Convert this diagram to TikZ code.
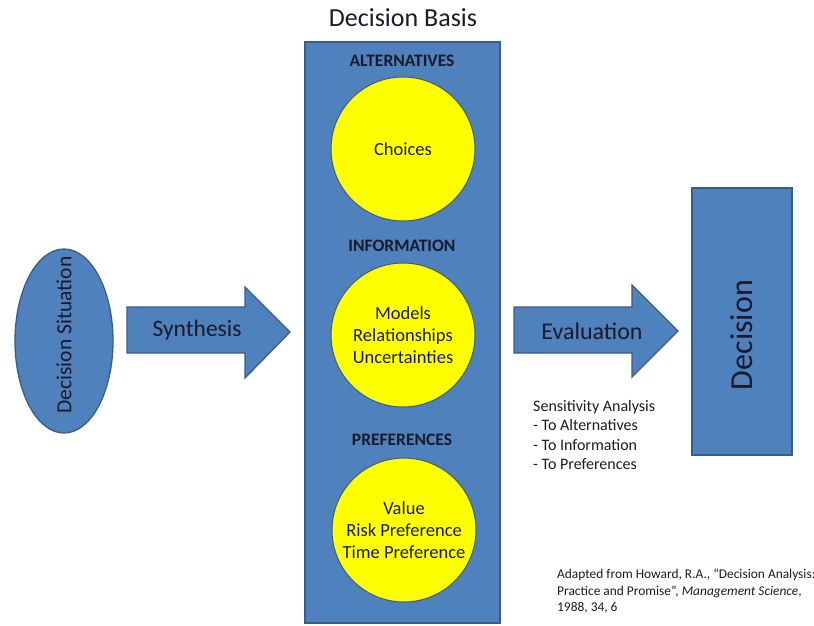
\documentclass[tikz,border=0pt]{standalone}
\usepackage{fontspec}
\setmainfont{Carlito}
\usetikzlibrary{shapes.geometric}
\definecolor{officeblue}{HTML}{4F81BD}
\definecolor{officeline}{HTML}{385D8A}
\definecolor{officeyellow}{HTML}{FFFF00}
\definecolor{inktext}{HTML}{1A1A2A}

\begin{document}
\begin{tikzpicture}[x=1pt,y=-1pt,text=inktext,
  blueshape/.style={fill=officeblue,draw=officeline,line width=1.3pt},
  factor/.style={circle,fill=officeyellow,draw=officeline,line width=1pt,minimum size=144pt,inner sep=0pt,align=center,font=\fontsize{18.5}{22}\selectfont},
  heading/.style={font=\bfseries\fontsize{17.5}{19}\selectfont}]
\useasboundingbox (0,0) rectangle (814,625);
% decision basis column
\node (title) at (403,18) [font=\fontsize{26}{28}\selectfont] {Decision Basis};
\node (basis) at (402.5,332.5) [rectangle,blueshape,minimum width=195pt,minimum height=581pt] {};
\node (altlabel)  at (402,61)  [heading] {ALTERNATIVES};
\node (infolabel) at (402,246) [heading] {INFORMATION};
\node (preflabel) at (402,440) [heading] {PREFERENCES};
\node (choices) at (403,149) [factor] {Choices};
\node (info)    at (403,335) [factor] {Models\\Relationships\\Uncertainties};
\node (prefs)   at (404,530) [factor] {Value\\Risk Preference\\Time Preference};
% situation and decision
\node (situation) at (64,341) [ellipse,blueshape,minimum width=98pt,minimum height=184pt] {};
\node (situationtext) at (64,335) [rotate=90,font=\fontsize{21.5}{24}\selectfont] {Decision Situation};
\node (decision) at (742,321.5) [rectangle,blueshape,minimum width=100pt,minimum height=267pt] {};
\node (decisiontext) at (742,335) [rotate=90,font=\fontsize{32}{36}\selectfont] {Decision};
% block arrows
\draw [blueshape] (127,307) -- (245,307) -- (245,287) -- (290,332) -- (245,378) -- (245,353) -- (127,353) -- cycle;
\node (synthesis) at (197,330) [font=\fontsize{23.5}{26}\selectfont] {Synthesis};
\draw [blueshape] (514,307) -- (632,307) -- (632,285) -- (678,331) -- (632,377) -- (632,353) -- (514,353) -- cycle;
\node (evaluation) at (592,331) [font=\fontsize{24}{26}\selectfont] {Evaluation};
% notes
\node (sensitivity) at (533,400) [anchor=north west,inner sep=0pt,align=left,font=\fontsize{16}{19.5}\selectfont] {Sensitivity Analysis\\- To Alternatives\\- To Information\\- To Preferences};
\node (source) at (557,569) [anchor=north west,inner sep=0pt,align=left,font=\fontsize{13.4}{16.5}\selectfont] {Adapted from Howard, R.A., “Decision Analysis:\\Practice and Promise”, \emph{Management Science},\\1988, 34, 6};
\end{tikzpicture}
\end{document}
